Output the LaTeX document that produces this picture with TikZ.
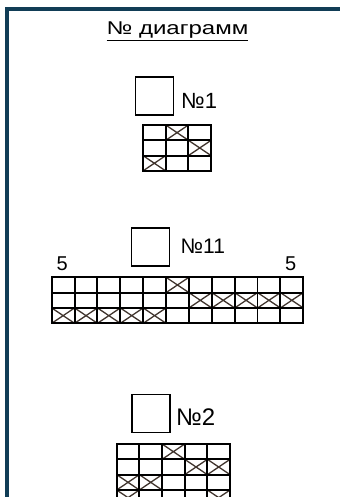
\documentclass[tikz,border=0pt]{standalone}
\usepackage{fontspec}
\setmainfont{Liberation Sans}
\usepackage{graphicx}
\definecolor{framecol}{RGB}{17,61,86}
\definecolor{crosscol}{RGB}{64,52,45}
\tikzset{
  markbox/.style={draw, line width=1.8pt, minimum width=38pt, minimum height=38pt, inner sep=0pt},
  numlabel/.style={anchor=base west, inner sep=0pt},
  gridline/.style={line width=1.9pt, line cap=rect},
  crossline/.style={crosscol, line width=1.3pt}
}

\begin{document}
\begin{tikzpicture}[x=1pt, y=1pt]
\clip (0,0) rectangle (340,-497);
\draw[framecol, line width=4pt] (7,-497) -- (7,-9) -- (340,-9);
\node[anchor=base, inner sep=0pt] (title) at (177.5,-35) {\fontsize{18.5}{20}\selectfont\scalebox{1.3}[1]{\underline{№ диаграмм}}};

% diagram 1
\node[markbox] (box1) at (154.5,-96.2) {};
\node[numlabel] (lab1) at (181,-108.3) {\fontsize{22}{24}\selectfont №1};
\begin{scope}[shift={(143,-125)}, x=22.7pt, y=15.3pt]
\foreach \c/\r in {2/1, 3/2, 1/3}
  \draw[crossline] (\c-1,1-\r) -- (\c,-\r) (\c-1,-\r) -- (\c,1-\r);
\draw[gridline] (0,0) grid[step=1] (3,-3);
\end{scope}

% diagram 11
\node[markbox] (box11) at (150.5,-247) {};
\node[numlabel] (lab11) at (180.5,-253.3) {\fontsize{21}{23}\selectfont №11};
\node[anchor=base, inner sep=0pt] (fiveleft) at (62.3,-270.7) {\fontsize{20}{22}\selectfont 5};
\node[anchor=base, inner sep=0pt] (fiveright) at (290.8,-270.7) {\fontsize{20}{22}\selectfont 5};
\begin{scope}[shift={(51.7,-277.3)}, x=22.87pt, y=15.33pt]
\foreach \c/\r in {6/1, 7/2, 8/2, 9/2, 10/2, 11/2, 1/3, 2/3, 3/3, 4/3, 5/3}
  \draw[crossline] (\c-1,1-\r) -- (\c,-\r) (\c-1,-\r) -- (\c,1-\r);
\draw[gridline] (0,0) grid[step=1] (11,-3);
\end{scope}

% diagram 2
\node[markbox] (box2) at (150.8,-413.5) {};
\node[numlabel] (lab2) at (176,-425) {\fontsize{24}{26}\selectfont №2};
\begin{scope}[shift={(116.7,-444)}, x=22.67pt, y=15.33pt]
\foreach \c/\r in {3/1, 4/2, 5/2, 1/3, 2/3, 1/4, 5/4}
  \draw[crossline] (\c-1,1-\r) -- (\c,-\r) (\c-1,-\r) -- (\c,1-\r);
\draw[gridline] (0,0) grid[step=1] (5,-4);
\end{scope}
\end{tikzpicture}
\end{document}
